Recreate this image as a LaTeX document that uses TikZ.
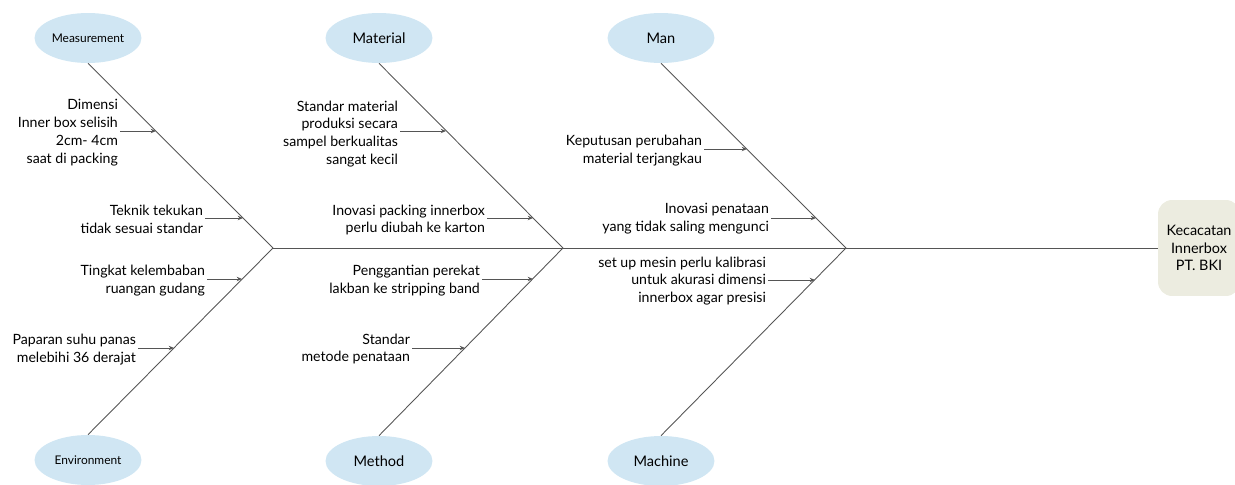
\documentclass[tikz,border=0pt]{standalone}
\usepackage{fontspec}
\setmainfont{Lato}
\usetikzlibrary{arrows.meta,shapes.geometric}
\definecolor{catblue}{RGB}{208,230,243}
\definecolor{headfill}{RGB}{236,236,224}
\definecolor{bonegray}{RGB}{85,85,85}
\begin{document}
\begin{tikzpicture}[x=0.02cm,y=-0.02cm,
        category/.style={ellipse,fill=catblue,minimum width=2.14cm,minimum height=1cm,inner sep=0pt,font=\fontsize{8.3}{10}\selectfont},
        smallcat/.style={category,font=\fontsize{6.8}{8}\selectfont},
        cause/.style={anchor=east,align=right,inner sep=1pt,font=\fontsize{8.05}{10.2}\selectfont},
        bone/.style={draw=bonegray,line width=0.5pt},
        subarrow/.style={bone,-{Stealth[length=3pt,width=2.5pt]}}]
            \clip (0,0) rectangle (1235,484);
            % head
            \node[fill=headfill,rounded corners=8pt,minimum width=1.64cm,minimum height=1.92cm,align=center,
                  font=\fontsize{8.2}{10}\selectfont] (head) at (1199,248) {Kecacatan\\Innerbox\\PT. BKI};
            % categories
            \node[smallcat] (meas) at (88,38) {Measurement};
            \node[category] (matl) at (379,38) {Material};
            \node[category] (man) at (661,38) {Man};
            \node[smallcat] (env) at (88,460) {Environment};
            \node[category] (meth) at (379,461) {Method};
            \node[category] (mach) at (661,461) {Machine};
            % spine and bones
            \coordinate (j1) at (273,248);
            \coordinate (j2) at (563,248);
            \coordinate (j3) at (846,248);
            \draw[bone] (j1) -- (head.west);
            \draw[bone] (meas.south) -- (j1);
            \draw[bone] (env.north) -- (j1);
            \draw[bone] (matl.south) -- (j2);
            \draw[bone] (meth.north) -- (j2);
            \draw[bone] (man.south) -- (j3);
            \draw[bone] (mach.north) -- (j3);
            % points on the bones
            \coordinate (m1) at (156,131);
            \coordinate (m2) at (243,218);
            \coordinate (e1) at (242,279);
            \coordinate (e2) at (174,348);
            \coordinate (t1) at (446,131);
            \coordinate (t2) at (533,218);
            \coordinate (d1) at (533,279);
            \coordinate (d2) at (465,348);
            \coordinate (n1) at (747,149);
            \coordinate (n2) at (816,218);
            \coordinate (c1) at (815,280);
            % causes
            \node[cause] (cm1) at (120,133) {Dimensi\\Inner box selisih\\2cm- 4cm\\saat di packing};
            \node[cause] (cm2) at (205,219) {Teknik tekukan\\tidak sesuai standar};
            \node[cause] (ce1) at (207,281) {Tingkat kelembaban\\ruangan gudang};
            \node[cause] (ce2) at (138,350) {Paparan suhu panas\\melebihi 36 derajat};
            \node[cause] (ct1) at (400,134) {Standar material\\produksi secara\\sampel berkualitas\\sangat kecil};
            \node[cause] (ct2) at (487,220) {Inovasi packing innerbox\\perlu diubah ke karton};
            \node[cause] (cd1) at (482,281) {Penggantian perekat\\lakban ke stripping band};
            \node[cause] (cd2) at (412,349) {Standar\\metode penataan};
            \node[cause] (cn1) at (704,151) {Keputusan perubahan\\material terjangkau};
            \node[cause] (cn2) at (771,219) {Inovasi penataan\\yang tidak saling mengunci};
            \node[cause] (cc1) at (768,281) {set up mesin perlu kalibrasi\\untuk akurasi dimensi\\innerbox agar presisi};
            \draw[subarrow] (cm1.east |- m1) -- (m1);
            \draw[subarrow] (cm2.east |- m2) -- (m2);
            \draw[subarrow] (ce1.east |- e1) -- (e1);
            \draw[subarrow] (ce2.east |- e2) -- (e2);
            \draw[subarrow] (ct1.east |- t1) -- (t1);
            \draw[subarrow] (ct2.east |- t2) -- (t2);
            \draw[subarrow] (cd1.east |- d1) -- (d1);
            \draw[subarrow] (cd2.east |- d2) -- (d2);
            \draw[subarrow] (cn1.east |- n1) -- (n1);
            \draw[subarrow] (cn2.east |- n2) -- (n2);
            \draw[subarrow] (cc1.east |- c1) -- (c1);
        \end{tikzpicture}
\end{document}
